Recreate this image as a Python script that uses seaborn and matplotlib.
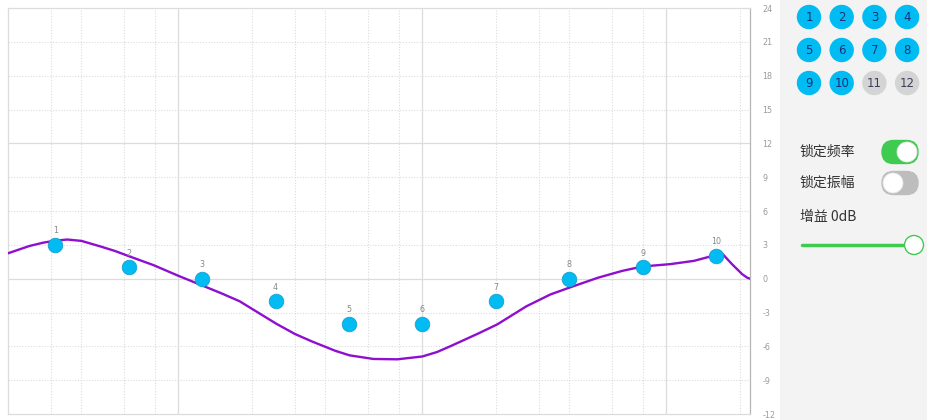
import numpy as np
import pandas as pd
import matplotlib
matplotlib.use("Agg")
import matplotlib.pyplot as plt
from matplotlib.patches import Circle, FancyBboxPatch
import seaborn as sns

# ─────────────────────────────────────────────
# data
# ─────────────────────────────────────────────
band_ids = [1, 2, 3, 4, 5, 6, 7, 8, 9, 10]
band_freq = [31.25, 62.5, 125, 250, 500, 1000, 2000, 4000, 8000, 16000]
band_gain = [3, 1, 0, -2, -4, -4, -2, 0, 1, 2]

curve_freq = [20, 24.5, 28, 31.3, 35, 40, 48, 55, 62.5, 79, 100, 125, 150,
              178, 210, 252, 300, 351, 440, 503, 630, 790, 1000, 1150, 1300,
              1700, 2030, 2670, 3350, 4000, 5260, 6600, 8000, 10400, 13000,
              16000, 17000, 18600, 20500, 21500, 22050]
curve_gain = [2.25, 2.9, 3.2, 3.37, 3.47, 3.35, 2.85, 2.45, 2.0, 1.2, 0.25,
              -0.6, -1.3, -2.0, -2.95, -4.0, -4.9, -5.55, -6.4, -6.8, -7.12,
              -7.15, -6.9, -6.5, -6.0, -4.85, -4.05, -2.45, -1.4, -0.8, 0.09,
              0.69, 1.08, 1.29, 1.58, 2.1, 2.2, 1.29, 0.39, 0.08, 0.0]

y_ticks = [24, 21, 18, 15, 12, 9, 6, 3, 0, -3, -6, -9, -12]
x_major = [100, 1000, 10000]
x_minor = [30, 40, 60, 80, 200, 300, 400, 600, 800,
           2000, 3000, 4000, 6000, 8000, 20000]

buttons = [str(i) for i in range(1, 13)]
buttons_on = 10

toggle_labels = ["锁定频率", "锁定振幅"]
toggle_state = [True, False]
gain_label = "增益 0dB"

# ─────────────────────────────────────────────
CURVE = "#8e0fcf"
POINT = "#00bcf2"
GRID = "#dcdcdc"
PANEL = "#f3f3f3"
GREEN = "#3fcb50"

sns.set_style("white")
plt.rcParams["font.family"] = ["Noto Sans CJK SC", "DejaVu Sans"]
plt.rcParams["axes.unicode_minus"] = False

W, H = 928, 420
fig = plt.figure(figsize=(W / 100, H / 100), dpi=100)
fig.patch.set_facecolor("white")

ax = fig.add_axes([8 / W, 6 / H, 742 / W, 406 / H])

curve_df = pd.DataFrame({"freq": curve_freq, "gain": curve_gain})
band_df = pd.DataFrame({"freq": band_freq, "gain": band_gain, "id": band_ids})

for f in x_minor:
    ax.axvline(f, color=GRID, lw=0.8, ls=(0, (1, 1.5)), zorder=0)
for f in x_major:
    ax.axvline(f, color=GRID, lw=0.9, zorder=0)
for y in y_ticks:
    if y in (0, 12):
        ax.axhline(y, color=GRID, lw=0.9, zorder=0)
    elif y not in (24, -12):
        ax.axhline(y, color=GRID, lw=0.8, ls=(0, (1, 1.5)), zorder=0)

sns.lineplot(data=curve_df, x="freq", y="gain", color=CURVE, lw=1.7,
             ax=ax, zorder=3, estimator=None, sort=False)
sns.scatterplot(data=band_df, x="freq", y="gain", color=POINT, s=110,
                edgecolor="#1a9fcf", linewidth=0.6, ax=ax, zorder=4)
for bid, f, g in zip(band_ids, band_freq, band_gain):
    ax.annotate(str(bid), (f, g), xytext=(0, 7),
                textcoords="offset points", ha="center", va="bottom",
                fontsize=5.8, color="#888888", family="DejaVu Sans")

ax.set_xscale("log")
ax.set_xlim(20, 22050)
ax.set_ylim(-12, 24)
ax.set_xticks([])
ax.minorticks_off()
ax.set_xticks([], minor=True)
ax.set_yticks(y_ticks)
ax.yaxis.tick_right()
ax.tick_params(axis="y", length=0, pad=9, labelsize=5.8, labelcolor="#9a9a9a")
for lab in ax.get_yticklabels():
    lab.set_family("DejaVu Sans")
ax.set_xlabel("")
ax.set_ylabel("")
for side in ("left", "top", "bottom"):
    ax.spines[side].set_color(GRID)
    ax.spines[side].set_linewidth(0.9)
ax.spines["right"].set_color("#b5b5b5")
ax.spines["right"].set_linewidth(0.9)

# ─────────────────────────────────────────────
# right control panel (pixel coordinates)
# ─────────────────────────────────────────────
px = fig.add_axes([780 / W, 0, 148 / W, 1])
px.set_xlim(780, 928)
px.set_ylim(H, 0)
px.axis("off")
px.add_patch(plt.Rectangle((780, 0), 148, H, color=PANEL, zorder=0))

for i, lab in enumerate(buttons):
    cx = 809 + (i % 4) * 32.7
    cy = 17 + (i // 4) * 33
    on = i < buttons_on
    px.add_patch(Circle((cx, cy), 11.5, color=POINT if on else "#d4d4d4",
                        zorder=2))
    px.text(cx, cy + 0.5, lab, ha="center", va="center", fontsize=8.5,
            color="#1b2f7a" if on else "#3a3f5a", family="DejaVu Sans",
            zorder=3)

for j, (lab, state) in enumerate(zip(toggle_labels, toggle_state)):
    cy = 152 + j * 31
    px.text(800, cy, lab, ha="left", va="center", fontsize=10,
            color="#333333", zorder=3)
    px.add_patch(FancyBboxPatch((893.5, cy), 13, 0,
                                boxstyle="round,pad=11.5",
                                color=GREEN if state else "#bdbdbd",
                                zorder=2))
    kx = 907 if state else 893
    px.add_patch(Circle((kx, cy), 10, facecolor="white",
                        edgecolor="#e6e6e6", lw=0.6, zorder=3))

px.text(800, 217, gain_label, ha="left", va="center", fontsize=10,
        color="#333333", zorder=3)
px.plot([802, 906], [245, 245], color=GREEN, lw=2.5, solid_capstyle="round",
        zorder=2)
px.add_patch(Circle((914, 245), 9.5, facecolor="white", edgecolor=GREEN,
                    lw=1.0, zorder=3))

fig.savefig("out.png", dpi=100)
